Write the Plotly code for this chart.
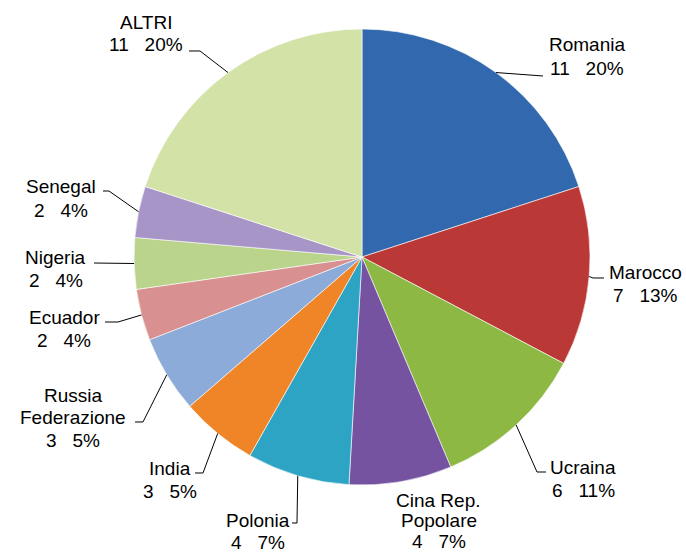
import math
import plotly.graph_objects as go

# Residents by country of citizenship
categories = ["Romania", "Marocco", "Ucraina", "Cina Rep. Popolare", "Polonia", "India",
              "Russia Federazione", "Ecuador", "Nigeria", "Senegal", "ALTRI"]
values = [11, 7, 6, 4, 4, 3, 3, 2, 2, 2, 11]
colors = ["#3168AE", "#BA3835", "#8DB843", "#7553A1", "#2EA4C5", "#EF8527",
          "#8DABD8", "#D99090", "#BAD48C", "#A895C8", "#D3E2A6"]

# Label text lines and placement (pixels): centre x, first-line y, line step, leader elbow points
label_lines = [["Romania"], ["Marocco"], ["Ucraina"], ["Cina Rep.", "Popolare"], ["Polonia"],
               ["India"], ["Russia", "Federazione"], ["Ecuador"], ["Nigeria"], ["Senegal"], ["ALTRI"]]
label_cx = [587, 645, 583, 439, 258, 170, 73, 64, 56, 61, 146]
label_y0 = [45, 272, 467, 500, 520, 468, 395, 317, 257, 187, 22]
label_step = [23, 23, 23, 20.5, 22.5, 23, 22.5, 23, 23, 23, 23]
leader_pts = [[(543, 76)], [(593, 278), (604, 278)], [(537, 472), (546, 472)], [],
              [(297, 523), (292, 523)], [(203, 473), (195, 473)], [(143, 422), (135, 422)],
              [(118, 322), (105, 322)], [(94, 263)], [(109, 191), (103, 191)], [(200, 51), (189, 51)]]

W, H = 686, 553
CX, CY, R = 362, 257, 228
FONT = dict(family="Liberation Sans, Arial, sans-serif", size=19, color="black")


def px(x):
    return x / W


def py(y):
    return (H - y) / H


fig = go.Figure(go.Pie(
    labels=categories,
    values=values,
    sort=False,
    direction="clockwise",
    rotation=0,
    textinfo="none",
    marker=dict(colors=colors, line=dict(color="rgba(255,255,255,0.6)", width=1)),
    domain=dict(x=[px(CX - R), px(CX + R)], y=[py(CY + R), py(CY - R)]),
    showlegend=False,
))

total = sum(values)
annotations = []
shapes = []
cum = 0
for i, v in enumerate(values):
    mid = (cum + v / 2) / total * 2 * math.pi
    cum += v
    # point on the rim at the middle of the slice
    ex = CX + R * math.sin(mid)
    ey = CY - R * math.cos(mid)
    pct = round(v / total * 100)
    lines = label_lines[i] + [f"{v}\u00a0\u00a0\u00a0{pct}%"]
    for k, t in enumerate(lines):
        annotations.append(dict(
            x=px(label_cx[i]), y=py(label_y0[i] + k * label_step[i]), xref="paper", yref="paper",
            text=t, showarrow=False, xanchor="center", yanchor="middle", font=FONT,
        ))
    pts = [(ex, ey)] + leader_pts[i]
    if len(pts) > 1:
        path = "M " + " L ".join(f"{px(x):.5f},{py(y):.5f}" for x, y in pts)
        shapes.append(dict(type="path", path=path, xref="paper", yref="paper",
                           line=dict(color="black", width=1)))

fig.update_layout(
    width=W, height=H,
    margin=dict(l=0, r=0, t=0, b=0, pad=0),
    paper_bgcolor="white",
    plot_bgcolor="white",
    annotations=annotations,
    shapes=shapes,
)

fig.write_html("out.html")
